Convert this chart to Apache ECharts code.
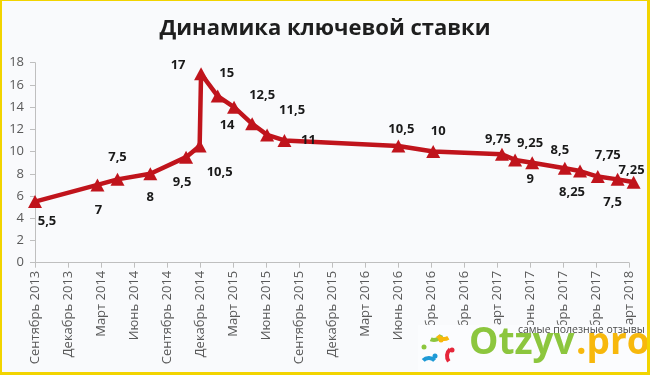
<!DOCTYPE html>
<html>
<head>
<meta charset="utf-8">
<script src="https://cdn.jsdelivr.net/npm/echarts@6/dist/echarts.min.js"></script>
<style>
html,body{margin:0;padding:0;background:#f2d400;}
#wrap{position:absolute;left:2px;top:1px;width:645px;height:371px;background:#f9fafc;overflow:hidden;}
#chart{position:absolute;left:-2px;top:-1px;width:650px;height:375px;}
</style>
</head>
<body>
<div id="wrap"><div id="chart"></div></div>
<script>
// Dates of key-rate changes and the rate values (%)
const changeDates = ['2013-09-13','2014-03-03','2014-04-28','2014-07-28','2014-11-05','2014-12-12','2014-12-16',
  '2015-02-02','2015-03-16','2015-05-05','2015-06-16','2015-08-03','2016-06-14','2016-09-19',
  '2017-03-27','2017-05-02','2017-06-19','2017-09-18','2017-10-30','2017-12-18','2018-02-12','2018-03-26'];
const rateValues = [5.5, 7, 7.5, 8, 9.5, 10.5, 17, 15, 14, 12.5, 11.5, 11, 10.5, 10, 9.75, 9.25, 9, 8.5, 8.25, 7.75, 7.5, 7.25];
const xTickLabels = ['Сентябрь 2013','Декабрь 2013','Март 2014','Июнь 2014','Сентябрь 2014','Декабрь 2014',
  'Март 2015','Июнь 2015','Сентябрь 2015','Декабрь 2015','Март 2016','Июнь 2016','Сентябрь 2016',
  'Декабрь 2016','Март 2017','Июнь 2017','Сентябрь 2017','Декабрь 2017','Март 2018'];
const yTicks = [0, 2, 4, 6, 8, 10, 12, 14, 16, 18];

// label offsets (style config)
const labelOffsets = [[12,20],[1,25],[0,-22],[0,23],[-4,25],[20,26],[-23,-9],[9,-23],[-7,18],[10,-29],
  [25,-25],[24,0],[3,-17],[5,-20],[-4,-15],[15,-17],[-2,17],[-5,-18],[-8,21],[10,-21],[-5,23],[-2,-12]];

function toMonths(s){
  const [y,m,d] = s.split('-').map(Number);
  const dim = new Date(y, m, 0).getDate();
  return (y-2013)*12 + (m-9) + (d-13)/dim;
}

const seriesData = changeDates.map((d,i)=>({
  value:[toMonths(d), rateValues[i]],
  label:{offset: labelOffsets[i]}
}));

const chart = echarts.init(document.getElementById('chart'), null, {renderer:'canvas'});
const font = '"Open Sans", "Noto Sans", sans-serif';
chart.setOption({
  backgroundColor:'transparent',
  animation:false,
  title:{
    text:'Динамика ключевой ставки', left:'center', top:13,
    textStyle:{fontFamily:font, fontSize:22, fontWeight:'bold', color:'#1e1e1e'}
  },
  grid:{left:35, right:21, top:62.7, bottom:112.3, containLabel:false},
  xAxis:{
    type:'value', min:0, max:(xTickLabels.length-1)*3, interval:3,
    axisLine:{lineStyle:{color:'#bfbfbf', width:1}},
    axisTick:{show:true, length:5, lineStyle:{color:'#bfbfbf'}},
    splitLine:{show:false},
    axisLabel:{
      rotate:90, margin:8, fontFamily:font, fontSize:13, color:'#595959',
      formatter:(v)=>xTickLabels[Math.round(v/3)] || ''
    }
  },
  yAxis:{
    type:'value', min:yTicks[0], max:yTicks[yTicks.length-1], interval:yTicks[1]-yTicks[0],
    axisLine:{show:true, lineStyle:{color:'#bfbfbf', width:1}},
    axisTick:{show:true, length:5, inside:false, lineStyle:{color:'#bfbfbf'}},
    splitLine:{show:false},
    axisLabel:{margin:11, fontFamily:font, fontSize:13, color:'#595959'}
  },
  series:[{
    type:'line', data:seriesData, clip:false,
    symbol:'triangle', symbolSize:[14,13],
    lineStyle:{color:'#c0141c', width:4.5},
    itemStyle:{color:'#c0141c'},
    label:{
      show:true, position:'inside', align:'center', verticalAlign:'middle',
      fontFamily:font, fontSize:13, fontWeight:'bold', color:'#1a1a1a',
      formatter:(p)=>String(p.value[1]).replace('.', ',')
    },
    z:3
  }],
  graphic:[
    {type:'rect', left:418, top:325, shape:{width:232, height:50}, style:{fill:'#fbfcfe'}, z:100},
    {type:'text', left:518, top:325, style:{text:'самые полезные отзывы', fontFamily:font, fontSize:10.5, fill:'#4a4a4a'}, z:101},
    {type:'text', left:469, top:325, style:{text:'Otzyv', fontFamily:font, fontSize:37, fontWeight:'bold', fill:'#8cc63e'}, z:101},
    {type:'text', left:576, top:325, style:{text:'.pro', fontFamily:font, fontSize:37, fontWeight:'bold', fill:'#f7b80c'}, z:101},
    {type:'circle', shape:{cx:424, cy:347, r:2.5}, style:{fill:'#8cc63e'}, z:101},
    {type:'arc', shape:{cx:434, cy:332, r:8, startAngle:0.4, endAngle:2.0}, style:{stroke:'#8cc63e', lineWidth:4, fill:null}, z:101},
    {type:'circle', shape:{cx:441, cy:340, r:2.5}, style:{fill:'#f7b80c'}, z:101},
    {type:'arc', shape:{cx:444, cy:331, r:8, startAngle:1.0, endAngle:2.5}, style:{stroke:'#f7b80c', lineWidth:4, fill:null}, z:101},
    {type:'circle', shape:{cx:452, cy:350, r:2.5}, style:{fill:'#e5263a'}, z:101},
    {type:'arc', shape:{cx:456, cy:356, r:9, startAngle:2.5, endAngle:4.0}, style:{stroke:'#e5263a', lineWidth:4, fill:null}, z:101},
    {type:'circle', shape:{cx:435, cy:356, r:2.5}, style:{fill:'#1e9ad6'}, z:101},
    {type:'arc', shape:{cx:429, cy:366, r:8, startAngle:3.9, endAngle:5.5}, style:{stroke:'#1e9ad6', lineWidth:4, fill:null}, z:101}
  ]
});
</script>
</body>
</html>
